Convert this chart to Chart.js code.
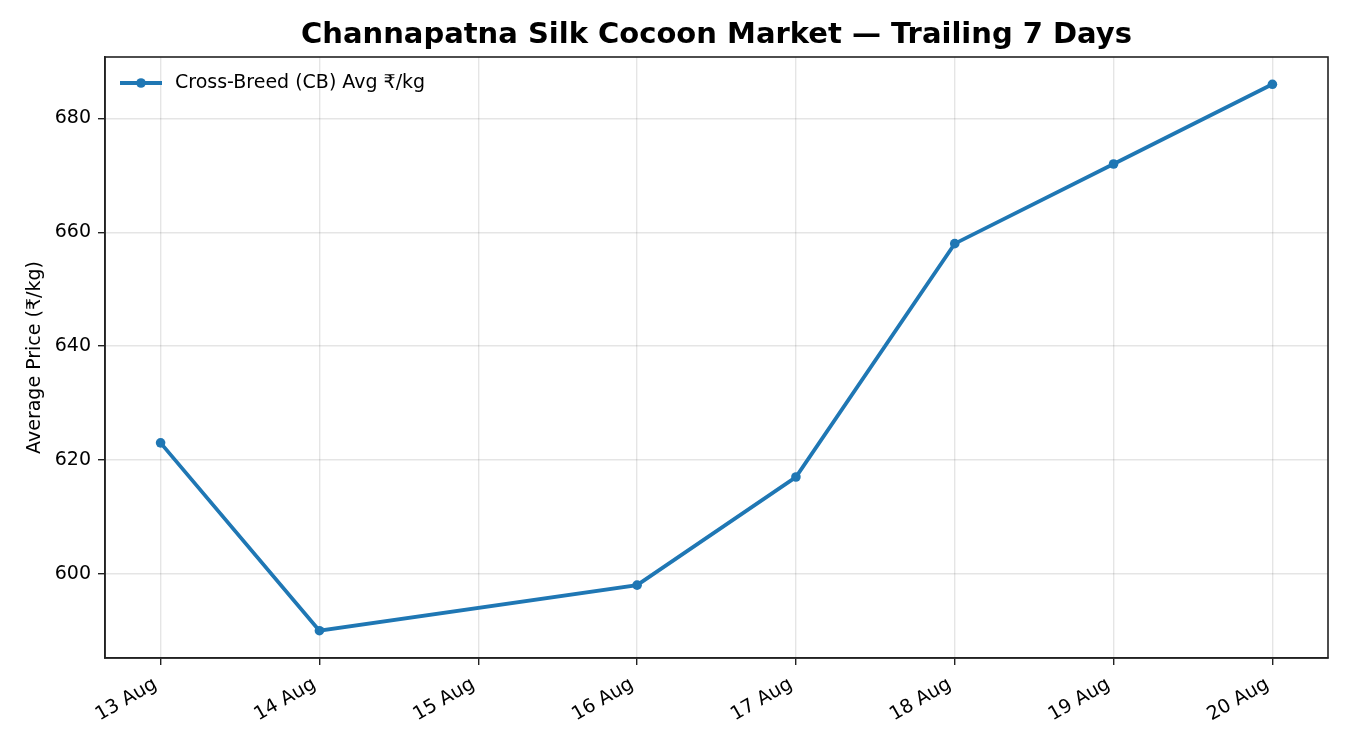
<!DOCTYPE html>
<html>
<head>
<meta charset="utf-8">
<script src="https://cdn.jsdelivr.net/npm/chart.js@4.4.1/dist/chart.umd.min.js"></script>
<style>
  html, body { margin: 0; padding: 0; background: #fff; }
  #wrap { width: 1350px; height: 750px; }
</style>
</head>
<body>
<div id="wrap"><canvas id="chart"></canvas></div>
<script>
// tick labels for every day on the axis, 15 Aug has no market data
var dayLabels = ['13 Aug', '14 Aug', '15 Aug', '16 Aug', '17 Aug', '18 Aug', '19 Aug', '20 Aug'];
var cbPrices = [623, 590, null, 598, 617, 658, 672, 686];
var yTicks = [600, 620, 640, 660, 680];

var seriesLabel = 'Cross-Breed (CB) Avg ₹/kg';
var titleText = 'Channapatna Silk Cocoon Market — Trailing 7 Days';
var blue = '#1f77b4';
var font = 'DejaVu Sans';

var points = cbPrices.map((v, i) => ({ x: i, y: v }));

// title centred over the plot area, frame and legend inside the axes
var extras = {
    id: 'extras',
    afterDraw: function (chart) {
        var ctx = chart.ctx;
        var a = chart.chartArea;
        ctx.save();
        ctx.strokeStyle = '#222';
        ctx.lineWidth = 1.6;
        ctx.strokeRect(a.left, a.top, a.right - a.left, a.bottom - a.top);

        ctx.fillStyle = '#000';
        ctx.font = 'bold 29px "' + font + '"';
        ctx.textAlign = 'center';
        ctx.textBaseline = 'middle';
        ctx.fillText(titleText, (a.left + a.right) / 2, 35);

        var ds = chart.data.datasets[0];
        var ly = a.top + 26;
        ctx.strokeStyle = ds.borderColor;
        ctx.lineWidth = 3.8;
        ctx.beginPath();
        ctx.moveTo(a.left + 15, ly);
        ctx.lineTo(a.left + 57, ly);
        ctx.stroke();
        ctx.fillStyle = ds.borderColor;
        ctx.beginPath();
        ctx.arc(a.left + 36, ly, 4.8, 0, Math.PI * 2);
        ctx.fill();
        ctx.fillStyle = '#000';
        ctx.font = '19px "' + font + '"';
        ctx.textAlign = 'left';
        ctx.fillText(ds.label, a.left + 70, ly);
        ctx.restore();
    }
};

new Chart(document.getElementById('chart'), {
    type: 'line',
    data: {
        datasets: [{
            label: seriesLabel,
            data: points,
            borderColor: blue,
            backgroundColor: blue,
            borderWidth: 3.8,
            pointRadius: 4.8,
            pointHoverRadius: 4.8,
            pointBorderWidth: 0,
            spanGaps: true,
            tension: 0
        }]
    },
    options: {
        responsive: true,
        maintainAspectRatio: false,
        animation: false,
        events: [],
        layout: { padding: { top: 57, right: 22, left: 0, bottom: 0 } },
        plugins: {
            legend: { display: false },
            title: { display: false },
            tooltip: { enabled: false }
        },
        scales: {
            x: {
                type: 'linear',
                min: -0.35,
                max: 7.35,
                afterFit: function (s) { s.height = 92; },
                afterBuildTicks: function (s) {
                    s.ticks = dayLabels.map((l, i) => ({ value: i }));
                },
                ticks: {
                    stepSize: 1,
                    includeBounds: false,
                    minRotation: 30,
                    maxRotation: 30,
                    padding: 8,
                    labelOffset: -5,
                    color: '#000',
                    font: { family: font, size: 19 },
                    callback: function (v) { return dayLabels[v]; }
                },
                grid: {
                    color: 'rgba(0,0,0,0.1)',
                    tickColor: '#222',
                    tickLength: 7,
                    lineWidth: 1.4
                },
                border: { color: '#222', width: 1.6 }
            },
            y: {
                min: 585.2,
                max: 690.8,
                afterFit: function (s) { s.width = 105; },
                afterBuildTicks: function (s) {
                    s.ticks = yTicks.map(v => ({ value: v }));
                },
                ticks: {
                    includeBounds: false,
                    padding: 7,
                    color: '#000',
                    font: { family: font, size: 19 }
                },
                grid: {
                    color: 'rgba(0,0,0,0.1)',
                    tickColor: '#222',
                    tickLength: 7,
                    lineWidth: 1.4
                },
                border: { color: '#222', width: 1.6 },
                title: {
                    display: true,
                    text: 'Average Price (₹/kg)',
                    color: '#000',
                    font: { family: font, size: 19 },
                    padding: { top: 24, bottom: 0 }
                }
            }
        }
    },
    plugins: [extras]
});
</script>
</body>
</html>
